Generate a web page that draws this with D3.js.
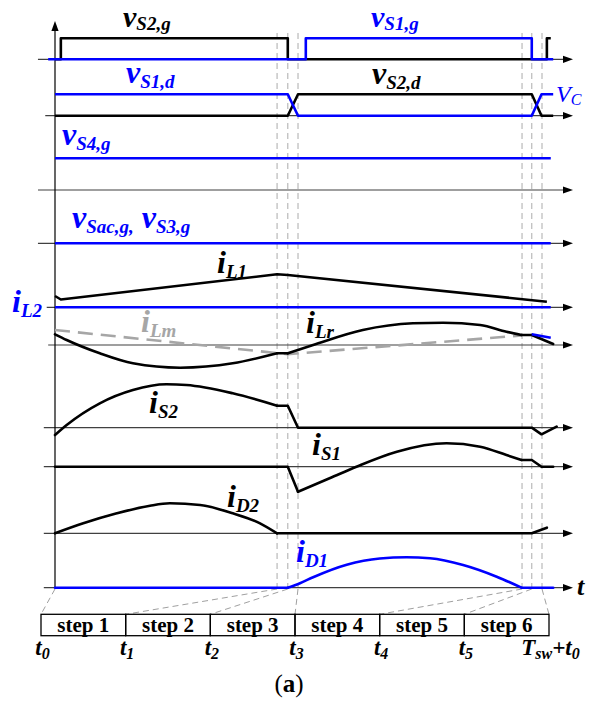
<!DOCTYPE html>
<html>
<head>
<meta charset="utf-8">
<script src="https://cdn.jsdelivr.net/npm/d3@7"></script>
<style>
  html, body { margin: 0; padding: 0; background: #fff; }
  svg { display: block; }
</style>
</head>
<body>
<svg id="chart" width="589" height="702"></svg>
<script>
// ---------------------------------------------------------------
// Switching-period key waveforms. Time in µs, Tsw = 10 µs.
// Gate / drain signals in per-unit (1 = high), currents in A.
// ---------------------------------------------------------------

// switching instants t0 … t5, Tsw + t0
const stepTimes = [0, 4.56, 4.78, 4.99, 9.59, 9.79, 10.0];
const stepNames = ["step 1", "step 2", "step 3", "step 4", "step 5", "step 6"];
const stepTickLabels = [
  [["t", "m"], ["0", "s"]],
  [["t", "m"], ["1", "s"]],
  [["t", "m"], ["2", "s"]],
  [["t", "m"], ["3", "s"]],
  [["t", "m"], ["4", "s"]],
  [["t", "m"], ["5", "s"]],
  [["T", "m"], ["sw", "s"], ["+t", "m"], ["0", "s"]]
];

// gate signals
const vS2g = [[0, 0], [0.12, 0], [0.12, 1], [4.78, 1], [4.78, 0], [10.10, 0], [10.10, 1], [10.18, 1]];
const vS1g = [[-0.14, 0], [5.15, 0], [5.15, 1], [9.79, 1], [9.79, 0], [10.23, 0]];
// drain-source voltages
const vS1d = [[0, 1], [4.78, 1], [4.99, 0], [9.79, 0], [9.99, 1], [10.23, 1]];
const vS2d = [[0, 0], [4.78, 0], [4.99, 1], [9.79, 1], [9.99, 0], [10.23, 0]];
// auxiliary gates
const vS4g = [[0, 1], [10.18, 1]];
const vSacg = [[0, 0], [10.18, 0]];

// inductor currents
const iL1 = [[0, 1.13], [0.12, 0.78], [4.56, 3.30], [4.78, 3.23], [10.10, 0.56]];
const iL2 = [[0, 0], [10.18, 0]];
const iLrArcA = [[0, 1.07], [0.24, 0.50], [0.92, -0.83], [1.60, -1.83], [2.57, -2.27], [3.65, -1.83], [4.56, -0.83]];
const iLrFlatA = [[4.56, -0.83], [4.78, -0.83]];
const iLrArcB = [[4.78, -0.83], [5.30, 0], [6.32, 1.5], [7.35, 2.17], [7.97, 2.23], [8.73, 2.0], [9.27, 1.33], [9.58, 1.0]];
const iLrTail = [[9.58, 1.0], [9.79, 1.0], [10.23, 0.1]];
const iLm = [[0, 1.5], [4.78, -0.92], [9.58, 0.95]];
const iLmTail = [[9.79, 1.07], [10.18, 0.73]];

// switch currents
const iS2Arc = [[0, -0.73], [0.24, 0.27], [0.92, 2.44], [1.60, 3.77], [2.29, 4.34], [2.70, 4.27], [3.65, 3.44], [4.56, 2.2]];
const iS2Tail = [[4.56, 2.2], [4.78, 2.2], [4.99, 0], [9.79, 0], [9.99, -0.66], [10.30, 0.1]];
const iS1Head = [[0, 0], [4.78, 0], [4.99, -2.5]];
const iS1Arc = [[4.99, -2.5], [5.65, -1.13], [6.19, 0], [7.02, 1.5], [8.04, 2.34], [8.73, 2.0], [9.27, 1.17], [9.58, 0.67]];
const iS1Tail = [[9.58, 0.67], [9.79, 0.67], [9.99, 0], [10.23, 0]];

// diode currents
const iD2Arc = [[0, 0], [0.58, 1.0], [1.27, 2.0], [1.95, 2.76], [2.36, 3.0], [2.98, 2.83], [3.65, 2.0], [4.21, 1.0], [4.56, 0]];
const iD2Tail = [[4.56, 0], [9.79, 0], [10.10, 0.56]];
const iD1Head = [[0, 0], [4.78, 0]];
const iD1Arc = [[4.78, 0], [5.03, 0.45], [5.30, 1.05], [5.99, 2.3], [6.67, 2.92], [7.22, 3.04], [7.70, 2.94], [8.38, 2.27], [9.07, 1.1], [9.58, 0]];
const iD1Tail = [[9.58, 0], [10.23, 0]];

// ---------------------------------------------------------------
// layout & styles
// ---------------------------------------------------------------
const BLACK = "#000", BLUE = "#0000ff", GRAY = "#a6a6a6", AXIS = "#404040";
const SERIF = "'Liberation Serif', 'Times New Roman', serif";
const LW = 2.6;

const svg = d3.select("#chart");
const x = d3.scaleLinear().domain([0, 10]).range([55, 542]);
const tEnd = x.invert(573);

// each row: zero line position, pixels per unit, axis start (µs)
const rows = {
  gate:  { base: 59.3,  unit: 21,   from: -0.35 },
  drain: { base: 115.7, unit: 21.4, from: -0.20 },
  s4:    { base: 190,   unit: 31.7, from: -0.35 },
  sac:   { base: 243.3, unit: 30,   from: -0.35 },
  iL:    { base: 307.3, unit: 10,   from: -0.17 },
  iLr:   { base: 345,   unit: 10,   from: -0.14 },
  iS2:   { base: 427.7, unit: 10,   from: -0.23 },
  iS1:   { base: 466.7, unit: 10,   from: -0.23 },
  iD2:   { base: 533.3, unit: 10,   from: -0.23 },
  iD1:   { base: 587.7, unit: 10,   from: -0.23 }
};
Object.values(rows).forEach(r => {
  r.y = d3.scaleLinear().domain([0, 1]).range([r.base, r.base - r.unit]);
});

const gGrid = svg.append("g");
const gAxes = svg.append("g");
const gWave = svg.append("g").attr("fill", "none").attr("stroke-linejoin", "round").attr("stroke-linecap", "butt");
const gText = svg.append("g");

// dashed instant markers
gGrid.selectAll("line.mark")
  .data(stepTimes.slice(1))
  .join("line")
  .attr("x1", d => x(d)).attr("x2", d => x(d))
  .attr("y1", 33).attr("y2", 588)
  .attr("stroke", "#b3b3b3").attr("stroke-width", 1.1)
  .attr("stroke-dasharray", "6,4");

// axes with arrowheads
function arrowRight(g, tipX, y) {
  g.append("path")
    .attr("d", `M${tipX},${y}L${tipX - 10},${y - 3.6}L${tipX - 10},${y + 3.6}Z`)
    .attr("fill", BLACK);
}
Object.values(rows).forEach(r => {
  gAxes.append("line")
    .attr("x1", x(r.from)).attr("x2", x(tEnd) - 4)
    .attr("y1", r.base).attr("y2", r.base)
    .attr("stroke", AXIS).attr("stroke-width", 1.2);
  arrowRight(gAxes, x(tEnd), r.base);
});
gAxes.append("line")
  .attr("x1", x(0)).attr("x2", x(0))
  .attr("y1", rows.iD1.base).attr("y2", 27)
  .attr("stroke", BLACK).attr("stroke-width", 1.2);
gAxes.append("path")
  .attr("d", `M${x(0)},21L${x(0) - 3.6},31L${x(0) + 3.6},31Z`)
  .attr("fill", BLACK);

// waveform drawing
function trace(row, pts, color, smooth, extra) {
  const r = rows[row];
  const line = d3.line()
    .x(d => x(d[0]))
    .y(d => r.y(d[1]))
    .curve(smooth ? d3.curveMonotoneX : d3.curveLinear);
  const p = gWave.append("path")
    .attr("d", line(pts))
    .attr("stroke", color)
    .attr("stroke-width", LW);
  if (extra) extra(p);
  return p;
}
const roundCap = p => p.attr("stroke-linecap", "round");

// gate row
trace("gate", vS2g, BLACK, false);
trace("gate", vS1g, BLUE, false);
// drain row
trace("drain", vS2d, BLACK, false);
trace("drain", vS1d, BLUE, false);
// auxiliary gates
trace("s4", vS4g, BLUE, false);
trace("sac", vSacg, BLUE, false);
// inductor currents
trace("iL", iL2, BLUE, false);
trace("iL", iL1, BLACK, false);
trace("iLr", iLm, GRAY, false, p => p.attr("stroke-dasharray", "15,8"));
trace("iLr", iLrArcA, BLACK, true, roundCap);
trace("iLr", iLrFlatA, BLACK, false, roundCap);
trace("iLr", iLrArcB, BLACK, true, roundCap);
trace("iLr", iLrTail, BLACK, false, roundCap);
trace("iLr", iLmTail, BLUE, false);
// switch currents
trace("iS2", iS2Arc, BLACK, true, roundCap);
trace("iS2", iS2Tail, BLACK, false, roundCap);
trace("iS1", iS1Head, BLACK, false, roundCap);
trace("iS1", iS1Arc, BLACK, true, roundCap);
trace("iS1", iS1Tail, BLACK, false, roundCap);
// diode currents
trace("iD2", iD2Arc, BLACK, true, roundCap);
trace("iD2", iD2Tail, BLACK, false, roundCap);
trace("iD1", iD1Head, BLUE, false, roundCap);
trace("iD1", iD1Arc, BLUE, true, roundCap);
trace("iD1", iD1Tail, BLUE, false, roundCap);

// labels: main symbol + subscript
function label(spec) {
  const t = gText.append("text")
    .attr("x", spec.x).attr("y", spec.y)
    .attr("fill", spec.color || BLACK)
    .attr("font-family", SERIF)
    .attr("font-style", spec.style || "italic")
    .attr("font-weight", spec.weight || "bold")
    .attr("text-anchor", spec.anchor || "start");
  let shift = 0;
  spec.parts.forEach(([txt, kind]) => {
    const sub = kind === "s";
    const target = sub ? (spec.subDy ?? 5) : 0;
    t.append("tspan")
      .attr("dy", target - shift)
      .attr("font-size", sub ? (spec.subSize || 19) : (spec.size || 32))
      .text(txt);
    shift = target;
  });
  return t;
}

const labels = [
  { x: 123, y: 27,  parts: [["v", "m"], ["S2,g", "s"]], size: 30, subDy: 3 },
  { x: 371, y: 27,  parts: [["v", "m"], ["S1,g", "s"]], color: BLUE, size: 30, subDy: 3 },
  { x: 126, y: 83,  parts: [["v", "m"], ["S1,d", "s"]], color: BLUE },
  { x: 372, y: 84,  parts: [["v", "m"], ["S2,d", "s"]] },
  { x: 556, y: 102, parts: [["V", "m"], ["C", "s"]], color: BLUE, size: 24, subSize: 16, subDy: 3, weight: "normal" },
  { x: 62,  y: 145, parts: [["v", "m"], ["S4,g", "s"]], color: BLUE },
  { x: 72,  y: 228, parts: [["v", "m"], ["Sac,g,", "s"], ["\u00a0v", "m"], ["S3,g", "s"]], color: BLUE },
  { x: 217, y: 273, parts: [["i", "m"], ["L1", "s"]] },
  { x: 12,  y: 312, parts: [["i", "m"], ["L2", "s"]], color: BLUE },
  { x: 141, y: 332, parts: [["i", "m"], ["Lm", "s"]], color: GRAY },
  { x: 306, y: 333, parts: [["i", "m"], ["Lr", "s"]] },
  { x: 149, y: 413, parts: [["i", "m"], ["S2", "s"]] },
  { x: 312, y: 455, parts: [["i", "m"], ["S1", "s"]] },
  { x: 227, y: 507, parts: [["i", "m"], ["D2", "s"]] },
  { x: 296, y: 562, parts: [["i", "m"], ["D1", "s"]], color: BLUE },
  { x: 577, y: 595, parts: [["t", "m"]], size: 26 }
];
labels.forEach(label);

// step table
const band = d3.scaleBand().domain(stepNames).range([41, 549]).paddingInner(0).paddingOuter(0);
const tableTop = 614.3, tableBot = 635.7;
const gTable = svg.append("g");
gTable.selectAll("rect")
  .data(stepNames)
  .join("rect")
  .attr("x", d => band(d)).attr("y", tableTop)
  .attr("width", band.bandwidth()).attr("height", tableBot - tableTop)
  .attr("fill", "none").attr("stroke", BLACK).attr("stroke-width", 1.3);
gTable.selectAll("text.step")
  .data(stepNames)
  .join("text")
  .attr("x", d => band(d) + band.bandwidth() / 2)
  .attr("y", 631.5)
  .attr("text-anchor", "middle")
  .attr("font-family", SERIF).attr("font-weight", "bold").attr("font-size", 21)
  .text(d => d);

const edges = stepNames.map(d => band(d)).concat([band.range()[1]]);

// zoom guides from the instants down to the table
gGrid.selectAll("line.guide")
  .data(stepTimes)
  .join("line")
  .attr("x1", d => x(d)).attr("y1", 589)
  .attr("x2", (d, i) => edges[i]).attr("y2", tableTop)
  .attr("stroke", "#a0a0a0").attr("stroke-width", 1)
  .attr("stroke-dasharray", "6,4");

stepTickLabels.forEach((parts, i) => {
  label({ x: edges[i] + 1.5, y: 655, parts, size: 23, subSize: 16, subDy: 4, anchor: "middle" });
});

// caption
const cap = svg.append("text")
  .attr("x", 289).attr("y", 692)
  .attr("text-anchor", "middle")
  .attr("font-family", SERIF).attr("font-size", 25);
cap.append("tspan").text("(");
cap.append("tspan").attr("font-weight", "bold").text("a");
cap.append("tspan").text(")");
</script>
</body>
</html>
